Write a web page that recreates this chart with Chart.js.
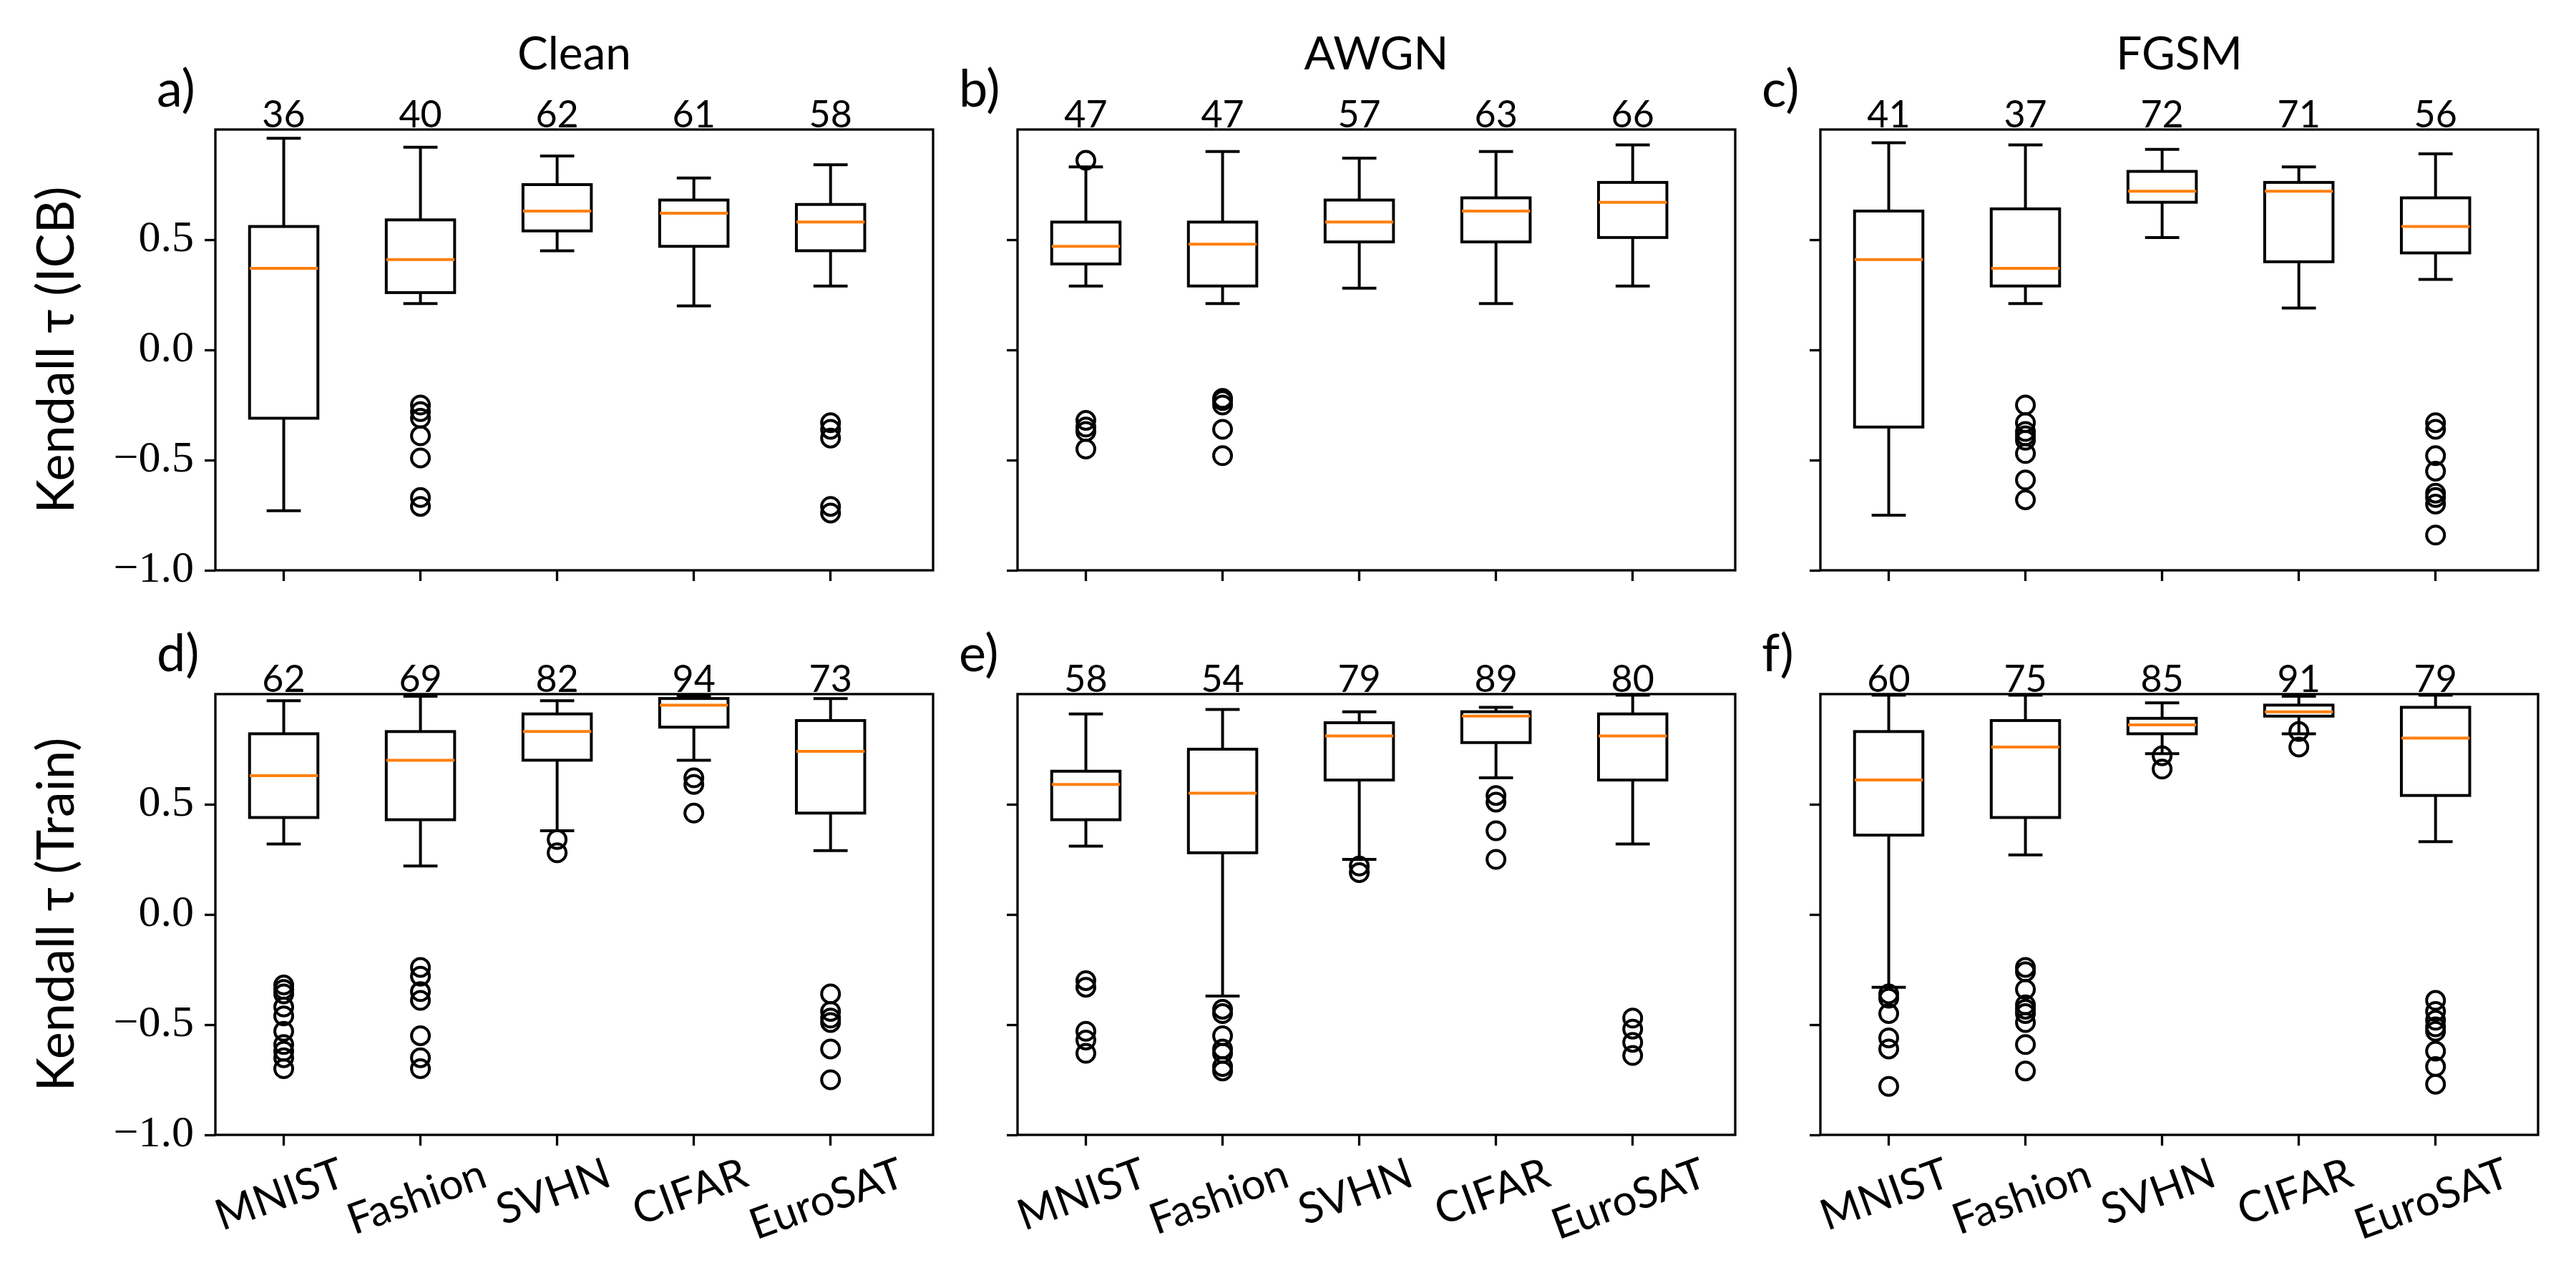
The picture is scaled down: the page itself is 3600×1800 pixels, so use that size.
<!DOCTYPE html>
<html>
<head>
<meta charset="utf-8">
<script src="https://cdn.jsdelivr.net/npm/chart.js@4.4.1/dist/chart.umd.min.js"></script>
<style>
  body { margin: 0; background: #fff; width: 3600px; height: 1800px; position: relative; overflow: hidden; }
  canvas { position: absolute; }
</style>
</head>
<body>
<script>
const datasetNames = ['MNIST', 'Fashion', 'SVHN', 'CIFAR', 'EuroSAT'];
const columnTitles = ['Clean', 'AWGN', 'FGSM'];
const rowLabels = ['Kendall \u03c4 (ICB)', 'Kendall \u03c4 (Train)'];
const panelLetters = ['a)', 'b)', 'c)', 'd)', 'e)', 'f)'];
const yTickValues = [-1.0, -0.5, 0.0, 0.5];

// each row: [whisker low, q1, median, q3, whisker high]
const cleanIcbBoxes = [[-0.73, -0.31, 0.37, 0.56, 0.96], [0.21, 0.26, 0.41, 0.59, 0.92], [0.45, 0.54, 0.63, 0.75, 0.88], [0.20, 0.47, 0.62, 0.68, 0.78], [0.29, 0.45, 0.58, 0.66, 0.84]];
const cleanIcbOutliers = [[], [-0.25, -0.28, -0.31, -0.39, -0.49, -0.67, -0.71], [], [], [-0.33, -0.36, -0.40, -0.71, -0.74]];
const cleanIcbCounts = [36, 40, 62, 61, 58];

const awgnIcbBoxes = [[0.29, 0.39, 0.47, 0.58, 0.83], [0.21, 0.29, 0.48, 0.58, 0.90], [0.28, 0.49, 0.58, 0.68, 0.87], [0.21, 0.49, 0.63, 0.69, 0.90], [0.29, 0.51, 0.67, 0.76, 0.93]];
const awgnIcbOutliers = [[0.86, -0.32, -0.35, -0.37, -0.45], [-0.22, -0.23, -0.25, -0.36, -0.48], [], [], []];
const awgnIcbCounts = [47, 47, 57, 63, 66];

const fgsmIcbBoxes = [[-0.75, -0.35, 0.41, 0.63, 0.94], [0.21, 0.29, 0.37, 0.64, 0.93], [0.51, 0.67, 0.72, 0.81, 0.91], [0.19, 0.40, 0.72, 0.76, 0.83], [0.32, 0.44, 0.56, 0.69, 0.89]];
const fgsmIcbOutliers = [[], [-0.25, -0.33, -0.37, -0.39, -0.41, -0.47, -0.59, -0.68], [], [], [-0.33, -0.36, -0.48, -0.55, -0.65, -0.67, -0.70, -0.84]];
const fgsmIcbCounts = [41, 37, 72, 71, 56];

const cleanTrainBoxes = [[0.32, 0.44, 0.63, 0.82, 0.97], [0.22, 0.43, 0.70, 0.83, 0.99], [0.38, 0.70, 0.83, 0.91, 0.97], [0.70, 0.85, 0.95, 0.98, 0.99], [0.29, 0.46, 0.74, 0.88, 0.98]];
const cleanTrainOutliers = [[-0.32, -0.34, -0.36, -0.42, -0.46, -0.53, -0.59, -0.62, -0.65, -0.70], [-0.24, -0.28, -0.35, -0.39, -0.55, -0.65, -0.70], [0.34, 0.28], [0.62, 0.59, 0.46], [-0.36, -0.44, -0.47, -0.49, -0.61, -0.75]];
const cleanTrainCounts = [62, 69, 82, 94, 73];

const awgnTrainBoxes = [[0.31, 0.43, 0.59, 0.65, 0.91], [-0.37, 0.28, 0.55, 0.75, 0.93], [0.25, 0.61, 0.81, 0.87, 0.92], [0.62, 0.78, 0.90, 0.92, 0.94], [0.32, 0.61, 0.81, 0.91, 0.995]];
const awgnTrainOutliers = [[-0.30, -0.33, -0.53, -0.57, -0.63], [-0.43, -0.45, -0.55, -0.61, -0.63, -0.69, -0.71], [0.22, 0.19], [0.54, 0.51, 0.38, 0.25], [-0.47, -0.52, -0.58, -0.64]];
const awgnTrainCounts = [58, 54, 79, 89, 80];

const fgsmTrainBoxes = [[-0.33, 0.36, 0.61, 0.83, 0.995], [0.27, 0.44, 0.76, 0.88, 0.995], [0.73, 0.82, 0.86, 0.89, 0.96], [0.82, 0.90, 0.92, 0.95, 0.99], [0.33, 0.54, 0.80, 0.94, 0.995]];
const fgsmTrainOutliers = [[-0.36, -0.38, -0.45, -0.56, -0.61, -0.78], [-0.24, -0.26, -0.34, -0.41, -0.43, -0.45, -0.49, -0.59, -0.71], [0.72, 0.66], [0.83, 0.76], [-0.39, -0.44, -0.48, -0.51, -0.53, -0.62, -0.69, -0.77]];
const fgsmTrainCounts = [60, 75, 85, 91, 79];

const panels = [
  [cleanIcbBoxes, cleanIcbOutliers, cleanIcbCounts],
  [awgnIcbBoxes, awgnIcbOutliers, awgnIcbCounts],
  [fgsmIcbBoxes, fgsmIcbOutliers, fgsmIcbCounts],
  [cleanTrainBoxes, cleanTrainOutliers, cleanTrainCounts],
  [awgnTrainBoxes, awgnTrainOutliers, awgnTrainCounts],
  [fgsmTrainBoxes, fgsmTrainOutliers, fgsmTrainCounts]
];

// layout (page pixels)
const colLeft = [301, 1422, 2544];
const rowTop = [181, 970];
const plotW = 1003, plotH = 616;
const padL = 300, padT = 181, padR = 40, padB = 200;

const sansFont = 'Lato, "Open Sans", sans-serif';
const serifFont = '"Liberation Serif", "DejaVu Serif", serif';
const orange = '#ff7f0e';

const fmtTick = v => (v < 0 ? '\u2212' : '') + Math.abs(v).toFixed(1);

const boxPlugin = {
  id: 'boxes',
  beforeDatasetsDraw(chart, args, opts) {
    const {ctx, scales: {x, y}} = chart;
    ctx.save();
    opts.boxes.forEach((b, i) => {
      const cx = x.getPixelForValue(i + 1);
      const half = x.getPixelForValue(i + 1.25) - cx;
      const cap = half / 2;
      const [lo, q1, med, q3, hi] = b.map(v => y.getPixelForValue(v));
      ctx.strokeStyle = '#000';
      ctx.lineWidth = 4;
      ctx.beginPath();
      ctx.moveTo(cx, q1); ctx.lineTo(cx, lo);
      ctx.moveTo(cx, q3); ctx.lineTo(cx, hi);
      ctx.moveTo(cx - cap, lo); ctx.lineTo(cx + cap, lo);
      ctx.moveTo(cx - cap, hi); ctx.lineTo(cx + cap, hi);
      ctx.stroke();
      ctx.strokeRect(cx - half, q3, half * 2, q1 - q3);
      ctx.strokeStyle = orange;
      ctx.beginPath();
      ctx.moveTo(cx - half, med); ctx.lineTo(cx + half, med);
      ctx.stroke();
    });
    ctx.restore();
  },
  afterDraw(chart, args, opts) {
    const {ctx, chartArea: a, scales: {x}} = chart;
    ctx.save();
    // frame
    ctx.strokeStyle = '#000';
    ctx.lineWidth = 3.3;
    ctx.strokeRect(a.left, a.top, a.right - a.left, a.bottom - a.top);
    ctx.fillStyle = '#000';
    // counts above each box
    ctx.font = '52px ' + sansFont;
    ctx.textAlign = 'center';
    ctx.textBaseline = 'alphabetic';
    opts.counts.forEach((c, i) => ctx.fillText(String(c), x.getPixelForValue(i + 1), a.top - 3));
    // panel letter
    ctx.font = '72px ' + sansFont;
    ctx.textAlign = 'left';
    ctx.fillText(opts.letter, a.left - 82, a.top - 32);
    // column title
    if (opts.title) {
      ctx.font = '64px ' + sansFont;
      ctx.textAlign = 'center';
      ctx.fillText(opts.title, (a.left + a.right) / 2, a.top - 84);
    }
    // rotated category labels
    if (opts.xLabels) {
      ctx.font = '60px ' + sansFont;
      const ang = 20 * Math.PI / 180;
      datasetNames.forEach((name, i) => {
        const m = ctx.measureText(name);
        const h = m.actualBoundingBoxAscent + m.actualBoundingBoxDescent;
        const bh = m.width * Math.sin(ang) + h * Math.cos(ang);
        const cx = x.getPixelForValue(i + 1) - 6;
        const cy = a.bottom + 30 + bh / 2;
        ctx.save();
        ctx.translate(cx, cy);
        ctx.rotate(-ang);
        ctx.textAlign = 'center';
        ctx.textBaseline = 'alphabetic';
        ctx.fillText(name, 0, (m.actualBoundingBoxAscent - m.actualBoundingBoxDescent) / 2);
        ctx.restore();
      });
    }
    ctx.restore();
  }
};

panels.forEach(([boxes, outliers, counts], p) => {
  const row = Math.floor(p / 3), col = p % 3;
  const canvas = document.createElement('canvas');
  canvas.width = padL + plotW + padR;
  canvas.height = padT + plotH + padB;
  canvas.style.left = (colLeft[col] - padL) + 'px';
  canvas.style.top = (rowTop[row] - padT) + 'px';
  document.body.appendChild(canvas);

  const points = [];
  outliers.forEach((list, i) => list.forEach(v => points.push({x: i + 1, y: v})));

  const tickGrid = {display: true, drawOnChartArea: false, drawTicks: true, tickLength: 15, tickWidth: 3.3, tickColor: '#000'};

  new Chart(canvas, {
    type: 'scatter',
    data: {
      datasets: [{
        data: points,
        pointStyle: 'circle',
        pointRadius: 12.5,
        borderWidth: 4,
        borderColor: '#000',
        backgroundColor: 'rgba(0,0,0,0)'
      }]
    },
    options: {
      responsive: false,
      animation: false,
      layout: {padding: {top: padT, right: padR, left: 0, bottom: 0}},
      plugins: {
        legend: {display: false},
        tooltip: {enabled: false},
        boxes: {
          boxes: boxes,
          counts: counts,
          letter: panelLetters[p],
          title: row === 0 ? columnTitles[col] : null,
          xLabels: row === 1
        }
      },
      scales: {
        x: {
          type: 'linear',
          min: 0.5,
          max: 5.75,
          afterBuildTicks: s => { s.ticks = datasetNames.map((_, i) => ({value: i + 1})); },
          afterFit: s => { s.height = padB; },
          ticks: {display: false},
          grid: tickGrid,
          border: {display: false}
        },
        y: {
          min: -1,
          max: 1,
          afterBuildTicks: s => { s.ticks = yTickValues.map(v => ({value: v})); },
          afterFit: s => { s.width = padL; },
          ticks: {
            display: col === 0,
            color: '#000',
            padding: 15,
            font: {family: serifFont, size: 62},
            callback: v => fmtTick(v)
          },
          grid: tickGrid,
          border: {display: false},
          title: {
            display: col === 0,
            text: rowLabels[row],
            color: '#000',
            font: {family: sansFont, size: 72},
            padding: {top: 36, bottom: 0}
          }
        }
      }
    },
    plugins: [boxPlugin]
  });
});
</script>
</body>
</html>
